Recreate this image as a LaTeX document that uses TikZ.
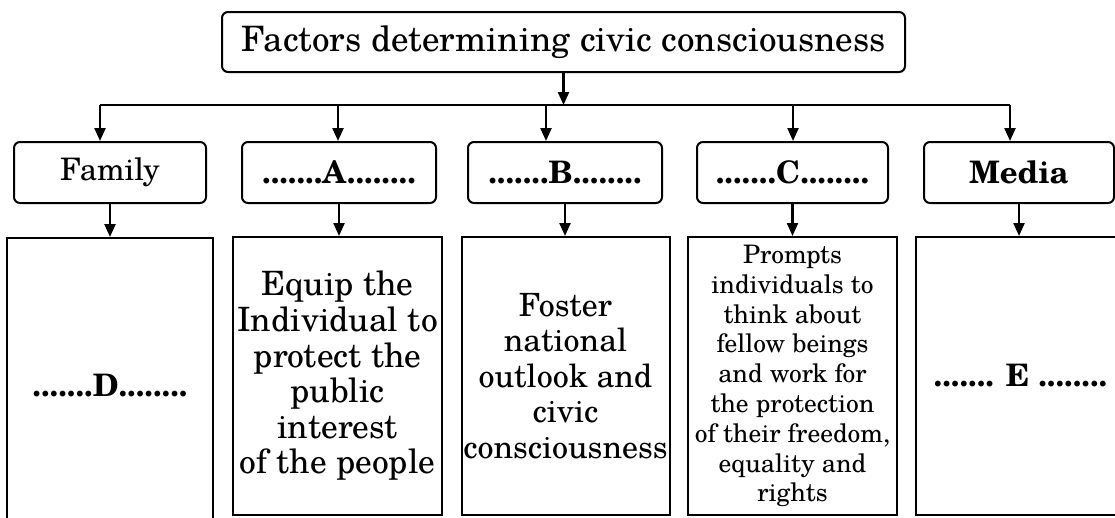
\documentclass[tikz,border=0pt]{standalone}
\usepackage{fontspec}
\setmainfont{TeX Gyre Schola}
\usetikzlibrary{arrows.meta}
\begin{document}
\begin{tikzpicture}[x=1pt,y=-1pt,
  box/.style={draw, line width=2pt, rounded corners=6pt, inner sep=0pt, align=center},
  tbox/.style={draw, line width=2pt, inner sep=0pt, align=center},
  arr/.style={line width=2.3pt, -{Triangle[length=13pt,width=11pt]}},
  topfont/.style={font=\fontsize{35}{40}\selectfont},
  midfont/.style={font=\fontsize{31}{36}\selectfont},
  bodyfont/.style={font=\fontsize{32}{35.6}\selectfont},
  bodyfonta/.style={font=\fontsize{33.5}{35.6}\selectfont},
  smallfont/.style={font=\fontsize{25.5}{29.8}\selectfont}]
\useasboundingbox (0,0) rectangle (1115,517);
\fill[white] (0,0) rectangle (1115,517);
\clip (0,0) rectangle (1115,517);

% top
\node[box, topfont, minimum width=683pt, minimum height=60pt] (top) at (563.5,42) {Factors determining civic consciousness};

% horizontal bar
\coordinate (h1) at (100,105);
\coordinate (h2) at (338,105);
\coordinate (h3) at (546,105);
\coordinate (h4) at (793,105);
\coordinate (h5) at (1010,105);
\draw[line width=2.3pt] (h1) -- (h5);
\draw[arr] (top.south) -- (top.south |- h1);

% second row
\node[box, midfont, minimum width=192pt, minimum height=61pt] (fam) at (110,172.5) {Family};
\node[box, midfont, minimum width=194pt, minimum height=61pt] (a) at (339,172.5) {\textbf{.......A........}};
\node[box, midfont, minimum width=194pt, minimum height=61pt] (b) at (565,172.5) {\textbf{.......B........}};
\node[box, midfont, minimum width=191pt, minimum height=61pt] (c) at (792.5,172.5) {\textbf{.......C........}};
\node[box, midfont, minimum width=190pt, minimum height=61pt] (med) at (1019,172.5) {\textbf{Media}};

\draw[arr] (h1) -- (h1 |- fam.north);
\draw[arr] (h2) -- (h2 |- a.north);
\draw[arr] (h3) -- (h3 |- b.north);
\draw[arr] (h4) -- (h4 |- c.north);
\draw[arr] (h5) -- (h5 |- med.north);

% third row
\node[tbox, midfont, minimum width=206pt, minimum height=295pt] (d) at (110,385.5) {\textbf{.......D........}};
\node[tbox, bodyfonta, minimum width=209pt, minimum height=278pt] (ea) at (337.5,376) {Equip the\\Individual to\\protect the\\public\\interest\\of the people};
\node[tbox, bodyfont, minimum width=208pt, minimum height=278pt] (eb) at (565.5,376) {Foster\\national\\outlook and\\civic\\consciousness};
\node[tbox, smallfont, minimum width=209pt, minimum height=278pt] (ec) at (792.5,376) {Prompts\\individuals to\\think about\\fellow beings\\and work for\\the protection\\of their freedom,\\equality and\\rights};
\node[tbox, midfont, minimum width=209pt, minimum height=278pt] (ee) at (1020.5,376) {\textbf{....... E ........}};

\draw[arr] (fam.south) -- (fam.south |- d.north);
\draw[arr] (a.south) -- (a.south |- ea.north);
\draw[arr] (b.south) -- (b.south |- eb.north);
\draw[arr] (c.south) -- (c.south |- ec.north);
\draw[arr] (med.south) -- (med.south |- ee.north);
\end{tikzpicture}
\end{document}
